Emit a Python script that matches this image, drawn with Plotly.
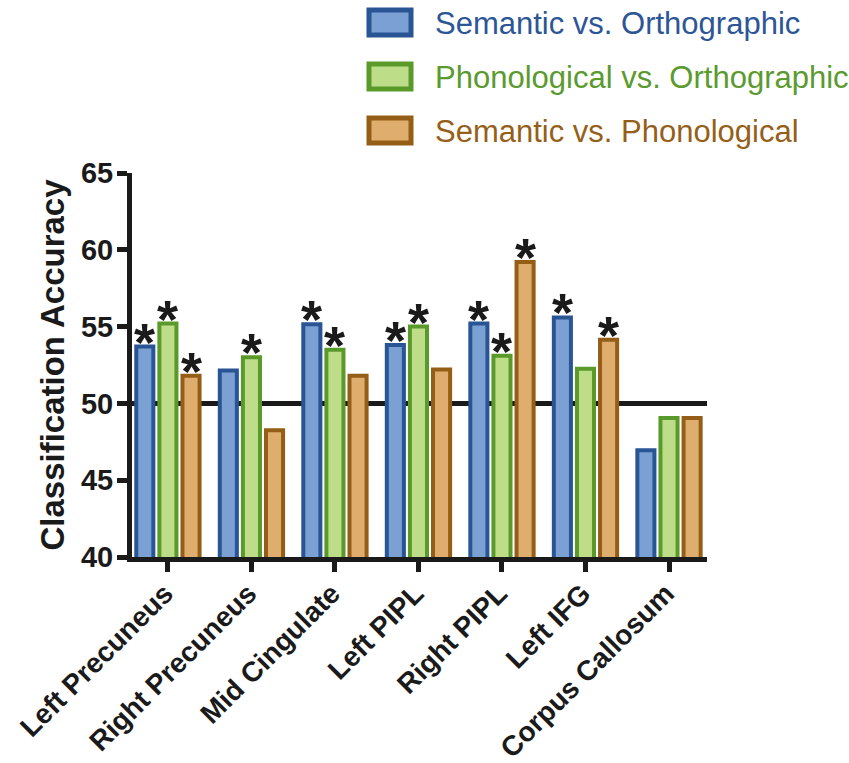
import plotly.graph_objects as go

# Regions of interest and classifier accuracies (%)
regions = ["Left Precuneus", "Right Precuneus", "Mid Cingulate", "Left PIPL",
           "Right PIPL", "Left IFG", "Corpus Callosum"]
sem_vs_orth = [53.7, 52.15, 55.15, 53.8, 55.2, 55.6, 46.95]
phon_vs_orth = [55.2, 53.0, 53.5, 55.0, 53.1, 52.25, 49.05]
sem_vs_phon = [51.8, 48.25, 51.8, 52.2, 59.2, 54.15, 49.05]

# Significance flags (asterisk above bar)
sig_sem_orth = [True, False, True, True, True, True, False]
sig_phon_orth = [True, True, True, True, True, False, False]
sig_sem_phon = [True, False, False, False, True, True, False]

series_names = ["Semantic vs. Orthographic", "Phonological vs. Orthographic",
                "Semantic vs. Phonological"]
chance_level = 50

FONT = "Liberation Sans, Arial, Helvetica, sans-serif"
INK = "#1a1a1a"
outline = ["#2A5595", "#5A9A2A", "#955E16"]
fills = ["#7BA0D4", "#BEDD88", "#DFAE6F"]
text_cols = ["#2C5696", "#5A9A2E", "#965F19"]

series = [sem_vs_orth, phon_vs_orth, sem_vs_phon]
sigs = [sig_sem_orth, sig_phon_orth, sig_sem_phon]

fig = go.Figure()
for name, vals, fc, lc in zip(series_names, series, fills, outline):
    fig.add_trace(go.Bar(
        x=regions, y=vals, name=name,
        marker=dict(color=fc, line=dict(color=lc, width=4)),
        showlegend=False,
    ))

BARGAP = 0.17
slot = (1 - BARGAP) / 3
offsets = [-slot, 0, slot]

annotations = []
for k, (vals, flags) in enumerate(zip(series, sigs)):
    for i, (v, s) in enumerate(zip(vals, flags)):
        if s:
            annotations.append(dict(
                x=i + offsets[k], y=v, xref="x", yref="y", text="<b>*</b>",
                showarrow=False, yanchor="bottom", yshift=-27,
                font=dict(family=FONT, size=54, color=INK),
            ))

# Legend drawn as large framed swatches with coloured labels
W, H = 849, 763
L, R, T, B = 132, 707, 173, 557
pw, ph = R - L, B - T

def px_x(p):
    return (p - L) / pw

def px_y(p):
    return (B - p) / ph

shapes = [dict(type="line", xref="paper", yref="y", x0=0, x1=1,
               y0=chance_level, y1=chance_level,
               line=dict(color=INK, width=5), layer="below")]
rows = [8, 62, 116]
for k in range(3):
    y0 = rows[k]
    shapes.append(dict(type="rect", xref="paper", yref="paper",
                       x0=px_x(369), x1=px_x(411), y0=px_y(y0 + 27), y1=px_y(y0 + 2),
                       fillcolor=fills[k], line=dict(color=outline[k], width=5)))
    annotations.append(dict(x=px_x(433), y=px_y(y0 + 15), xref="paper", yref="paper",
                            text=series_names[k], showarrow=False,
                            xanchor="left", yanchor="middle",
                            font=dict(family=FONT, size=31, color=text_cols[k])))

fig.update_layout(
    width=W, height=H,
    margin=dict(l=L, r=W - R, t=T, b=H - B, pad=0),
    plot_bgcolor="white", paper_bgcolor="white",
    barmode="group", bargap=BARGAP, bargroupgap=0.26,
    shapes=shapes, annotations=annotations,
    font=dict(family=FONT, color=INK),
)
fig.update_xaxes(
    range=[-0.43, 6.455], showline=True, linecolor=INK, linewidth=5,
    ticks="outside", ticklen=10, tickwidth=5, tickcolor=INK,
    tickangle=-45, tickfont=dict(family=FONT, size=28, color=INK, weight="bold"),
    ticklabelstandoff=-6, ticklabelshift=-3,
    showgrid=False, zeroline=False, automargin=False,
)
fig.update_yaxes(
    range=[40, 65], tickvals=[40, 45, 50, 55, 60, 65],
    showline=True, linecolor=INK, linewidth=5,
    ticks="outside", ticklen=10, tickwidth=5, tickcolor=INK,
    tickfont=dict(family=FONT, size=29, color=INK, weight="bold"),
    ticklabelstandoff=-2,
    showgrid=False, zeroline=False, automargin=False,
    title=dict(text="Classification Accuracy", standoff=8,
               font=dict(family=FONT, size=33, color=INK, weight="bold")),
)

fig.write_html("out.html")
